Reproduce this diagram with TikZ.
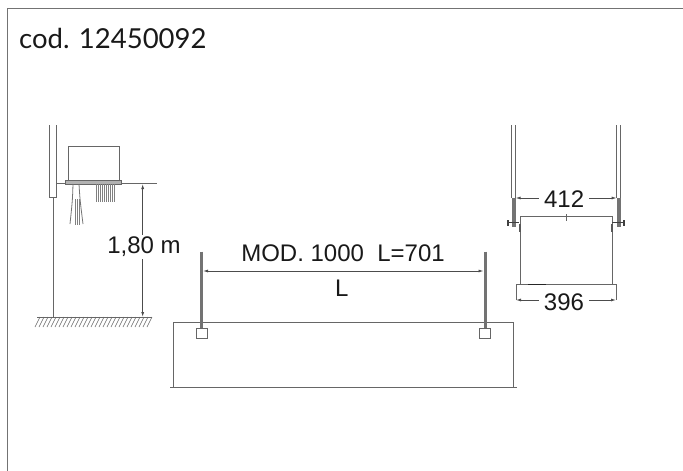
\documentclass[tikz,border=0pt]{standalone}
\usepackage{fontspec}
\setmainfont{Liberation Sans}
\newfontfamily\codfont{Lato}
\usetikzlibrary{arrows.meta}

\tikzset{
	part/.style={draw=black!60,line width=0.8pt},
	rod/.style={draw=black!55,line width=3pt},
	bolt/.style={draw=black!75,line width=1.5pt},
	dim/.style={draw=black!70,line width=0.8pt,{Latex[length=5pt,width=3pt]}-{Latex[length=5pt,width=3pt]}},
	lab/.style={inner sep=0pt,font=\fontsize{24}{24}\selectfont,text=black!90},
	gaplab/.style={lab,fill=white,inner xsep=5pt,inner ysep=1pt},
	hook/.style={part,draw,minimum width=11pt,minimum height=10pt,inner sep=0pt},
}

\begin{document}
\begin{tikzpicture}[x=1pt,y=-1pt]
	\useasboundingbox (0,0) rectangle (683,471);
	% frame
	\draw [black!55,line width=1.3pt] (7.5,471) -- (7.5,8.5) -- (683,8.5);
	\node (cod) [anchor=west,inner sep=0pt,font=\codfont\fontsize{27.5}{28}\selectfont,text=black!90] at (19,38) {cod. 12450092};

	% left view
	\draw [part] (49.5,125) |- (56.5,197) -- (56.5,125);
	\draw [part] (53,197) -- (53,317);
	\draw [part] (56.5,183) -- (157,183);
	\draw [part] (68,181) -- (68,146) -- (119,146) -- (119,181);
	\draw [part,fill=black!30] (65,180.5) rectangle (121.5,184);
	\foreach \x in {96.5,98.5,...,115}
		\draw [black!50,line width=1.1pt] (\x,184) -- (\x,201.5);
	\draw [black!55,line width=0.8pt] (73,184) .. controls (72.5,200) .. (70,224);
	\draw [black!55,line width=0.8pt] (79,184) .. controls (80,200) .. (83,224);
	\foreach \x in {75.5,77.5,79.5}
		\draw [black!50,line width=0.9pt] (\x,199) -- (\x,225);
	\draw [part] (37,317) -- (152,317);
	\foreach \x in {40,44,...,152}
		\draw [black!60,line width=0.6pt] (\x,317) -- (\x-5,327);
	\coordinate (hTop) at (142.7,184);
	\coordinate (hBot) at (142.7,317);
	\draw [dim] (hTop) -- (hBot);
	\node (hLab) [lab,fill=white,inner ysep=2pt] at (144,247) {1,80 m};

	% front view
	\node (lampF) [part,draw,minimum width=340pt,minimum height=65.5pt,inner sep=0pt,anchor=north west] at (173.3,321.7) {};
	\draw [part] (170,387.2) -- (516.7,387.2);
	\node (hookL) [hook] at (201.7,333.3) {};
	\node (hookR) [hook] at (485,333.3) {};
	\coordinate (rodL) at (201.7,251.7);
	\coordinate (rodR) at (485,251.7);
	\draw [rod] (rodL) -- (hookL.north);
	\draw [rod] (rodR) -- (hookR.north);
	\draw [dim] (203,271) -- (483.5,271);
	\node (modLab) [lab] at (343,253) {MOD. 1000\ \ L=701};
	\node (lLab) [lab] at (341.7,288) {L};

	% side view
	\foreach \x in {511.7,515.5,616.7,620.5}
		\draw [part] (\x,125) -- (\x,198);
	\draw [rod,line width=4pt] (513.6,198) -- (513.6,227);
	\draw [rod,line width=4pt] (618.6,198) -- (618.6,227);
	\draw [dim] (515.6,198) -- (616.6,198) node (wLab) [gaplab,midway,xshift=-2pt,yshift=-1pt] {412};
	\draw [part] (520,284) -- (520,216) -- (612,216) -- (612,284);
	\draw [part] (566.7,214) -- (566.7,221);
	\draw [bolt] (507,222.7) -- (519,222.7);
	\draw [bolt] (612,222.7) -- (625,222.7);
	\draw [bolt] (508,220) -- (508,225.5);
	\draw [bolt] (624,220) -- (624,225.5);
	\draw [black!65,line width=1.2pt] (520,224) -- (520,232);
	\draw [black!65,line width=1.2pt] (612,224) -- (612,232);
	\draw [part] (516,300) |- (616,284) -- (616,300);
	\draw [black!85,line width=0.9pt] (528,284) -- (546,284);
	\draw [dim] (516,300) -- (616,300) node (bLab) [gaplab,midway,xshift=-2pt,yshift=-2pt] {396};
\end{tikzpicture}
\end{document}
